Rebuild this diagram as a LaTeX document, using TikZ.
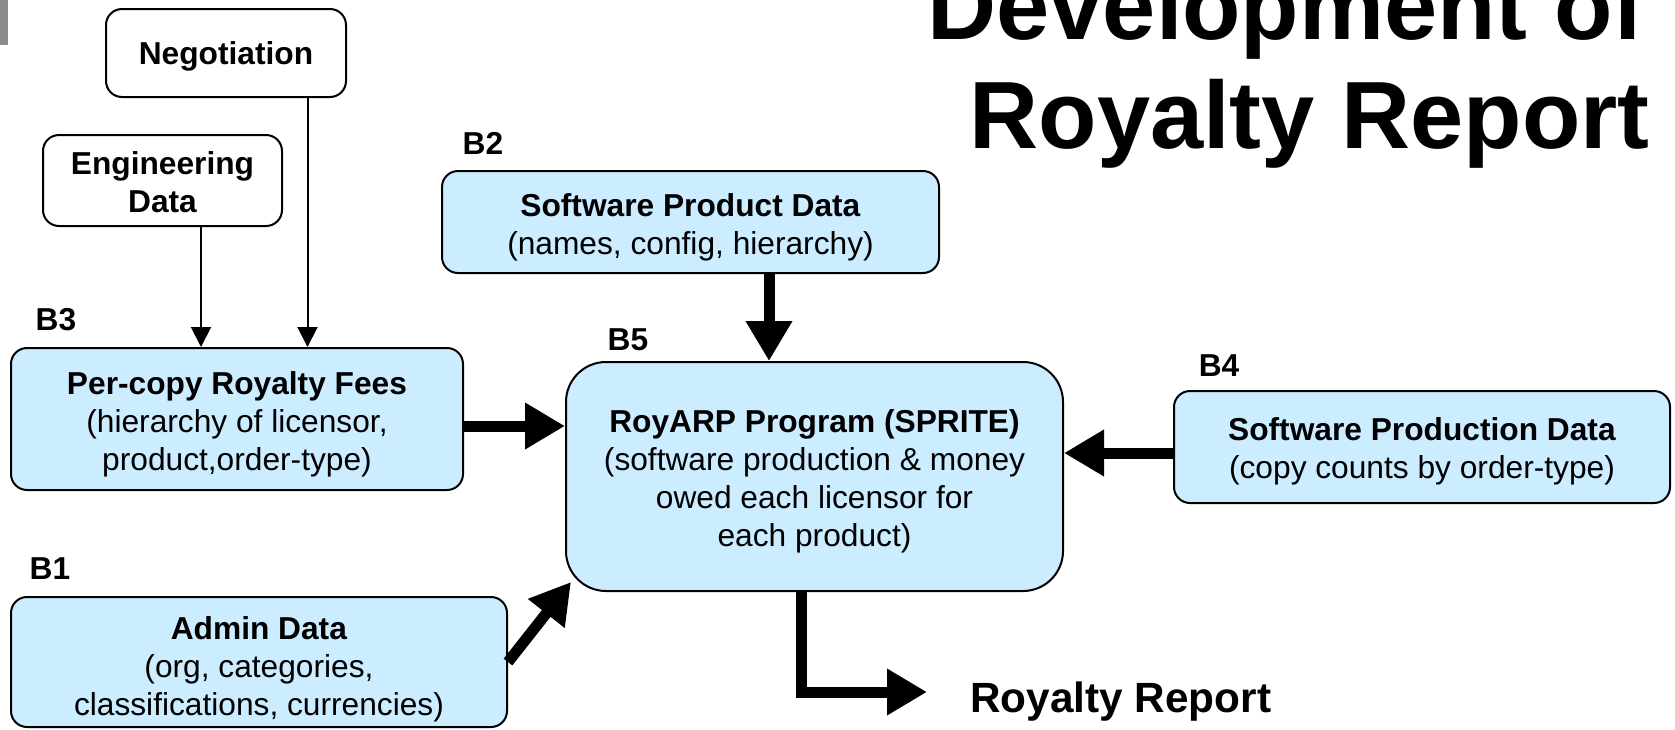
\documentclass[tikz,border=0pt]{standalone}
\usepackage{fontspec}
\setmainfont{Liberation Sans}
\usetikzlibrary{arrows.meta, positioning, calc}
\definecolor{boxfill}{HTML}{CCECFF}
\definecolor{barfill}{HTML}{8C8C8C}

\begin{document}
\begin{tikzpicture}[
      x=0.5pt, y=-0.5pt,
      font=\fontsize{15.85}{19}\selectfont,
      src/.style={draw, line width=1pt, rounded corners=8pt, fill=white,
                  align=center, inner sep=0pt, font=\fontsize{15.85}{19}\selectfont\bfseries},
      blk/.style={draw, line width=1pt, rounded corners=8pt, fill=boxfill,
                  align=center, inner sep=0pt},
      tag/.style={font=\fontsize{15.85}{19}\selectfont\bfseries, inner sep=0pt},
      ttl/.style={font=\fontsize{47.8}{55}\selectfont\bfseries, inner sep=0pt, anchor=base east},
      feed/.style={-{Triangle[length=10pt,width=10pt]}, line width=1pt},
      pipe/.style={-{Triangle[length=20pt,width=22pt]}, line width=5.5pt}
  ]
    \useasboundingbox (0,0) rectangle (1675,729);
    \fill[barfill] (0,0) rectangle (8,45);

    % title
    \node[ttl] (title1) at (1645,39) {Development of};
    \node[ttl] (title2) at (1650,148) {Royalty Report};

    % outside sources
    \node[src, minimum width=120pt, text height=27.9pt, text depth=16.1pt] (neg) at (226,53) {Negotiation};
    \node[src, minimum width=119.5pt, text height=38.9pt, text depth=6.6pt] (eng) at (162.5,180.5) {Engineering\\Data};

    % data blocks
    \node[blk, minimum width=248.5pt, text height=41.75pt, text depth=9.25pt] (prod) at (690.5,222)
      {\textbf{Software Product Data}\\(names, config, hierarchy)};
    \node[blk, minimum width=226pt, text height=61.3pt, text depth=9.7pt] (fees) at (237,419)
      {\textbf{Per-copy Royalty Fees}\\(hierarchy of licensor,\\product,order-type)};
    \node[blk, rounded corners=20pt, minimum width=248.5pt, text height=92pt, text depth=22.5pt] (prog) at (814.5,476.5)
      {\textbf{RoyARP Program (SPRITE)}\\(software production \& money\\owed each licensor for\\each product)};
    \node[blk, minimum width=248pt, text height=43.9pt, text depth=12.1pt] (count) at (1422,447)
      {\textbf{Software Production Data}\\(copy counts by order-type)};
    \node[blk, minimum width=248pt, text height=59.2pt, text depth=5.8pt] (admin) at (259,662)
      {\textbf{Admin Data}\\(org, categories,\\classifications, currencies)};

    \node[tag] (tB3) at (56,320) {B3};
    \node[tag] (tB2) at (483,143) {B2};
    \node[tag] (tB5) at (628,340) {B5};
    \node[tag] (tB4) at (1219,366) {B4};
    \node[tag] (tB1) at (50,569) {B1};

    % output
    \coordinate (outend) at (927,692);
    \node[font=\fontsize{21.15}{25}\selectfont\bfseries, inner sep=0pt, anchor=base west] (rep) at (970,712) {Royalty Report};

    % thin feeds into B3
    \draw[feed] ([xshift=19.25pt]eng.south) -- ([xshift=19.25pt]eng.south |- fees.north);
    \draw[feed] ([xshift=40.75pt]neg.south) -- ([xshift=40.75pt]neg.south |- fees.north);

    % thick flows into the program
    \draw[pipe] ([xshift=39.25pt]prod.south) -- ([xshift=39.25pt]prod.south |- prog.north);
    \draw[pipe] ([yshift=-3.5pt]fees.east) -- ([yshift=-3.5pt]fees.east -| prog.west);
    \draw[pipe] ([yshift=-3pt]count.west) -- ([yshift=-3pt]count.west -| prog.east);
    \draw[pipe] (admin.east) -- ([xshift=3pt,yshift=5pt]prog.south west);
    \draw[pipe] ([xshift=-6.75pt]prog.south) |- (outend);
\end{tikzpicture}
\end{document}
